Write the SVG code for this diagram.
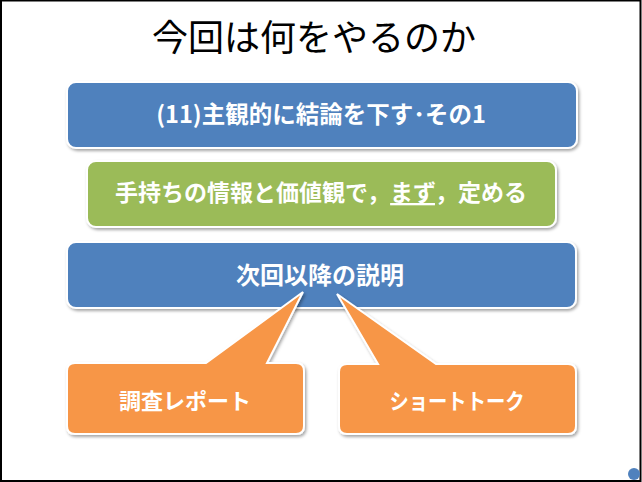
<svg xmlns="http://www.w3.org/2000/svg" width="642" height="482" viewBox="0 0 642 482">
  <defs>
    <filter id="sh" x="-10%" y="-10%" width="120%" height="130%">
      <feDropShadow dx="1.5" dy="2" stdDeviation="1.5" flood-color="#000" flood-opacity="0.35"/>
    </filter>
    <style>
      .box { stroke: #fff; stroke-width: 2; filter: url(#sh); }
      .blue { fill: #4F81BD; }
      .green { fill: #9BBB59; }
      .orange { fill: #F79646; }
      .lbl { font-family: "Noto Sans CJK JP", "Noto Sans", sans-serif; fill: #fff; font-weight: 700; text-anchor: middle; }
      .title { font-family: "Noto Sans CJK JP", "Noto Sans", sans-serif; fill: #000; text-anchor: middle; font-size: 36px; }
    </style>
  </defs>
  <rect x="0" y="0" width="642" height="482" fill="#fff"/>
  <rect x="1" y="0.5" width="639.5" height="480.5" fill="none" stroke="#000" stroke-width="2"/>

  <g id="title">
    <text class="title" x="314" y="51">今回は何をやるのか</text>
  </g>

  <g id="node-topic">
    <rect class="box blue" x="67" y="82" width="510" height="66" rx="9"/>
    <text class="lbl" x="321" y="123" font-size="23.5">(11)主観的に結論を下す･その1</text>
  </g>

  <g id="node-decide">
    <rect class="box green" x="87" y="161" width="469" height="66" rx="9"/>
    <text class="lbl" x="321" y="201" font-size="23">手持ちの情報と価値観で，<tspan text-decoration="underline">まず</tspan>，定める</text>
  </g>

  <g id="node-next">
    <rect class="box blue" x="67" y="242" width="509" height="66" rx="9"/>
    <text class="lbl" x="320" y="284" font-size="24">次回以降の説明</text>
  </g>

  <g id="node-report">
    <path class="box orange" d="M75,363 L206,363 L303,292 L267,363 L296,363 Q304,363 304,371 L304,426 Q304,434 296,434 L75,434 Q67,434 67,426 L67,371 Q67,363 75,363 Z"/>
    <text class="lbl" x="185" y="409" font-size="22">調査レポート</text>
  </g>

  <g id="node-talk">
    <path class="box orange" d="M347,364 L378,364 L337,294 L436,364 L568,364 Q576,364 576,372 L576,426 Q576,434 568,434 L347,434 Q339,434 339,426 L339,372 Q339,364 347,364 Z"/>
    <text class="lbl" x="457" y="409" font-size="22" textLength="135" lengthAdjust="spacingAndGlyphs">ショートトーク</text>
  </g>

  <g id="connectors"></g>

  <g id="page-marker">
    <circle cx="634" cy="474" r="6" fill="#4F81BD"/>
  </g>
</svg>
